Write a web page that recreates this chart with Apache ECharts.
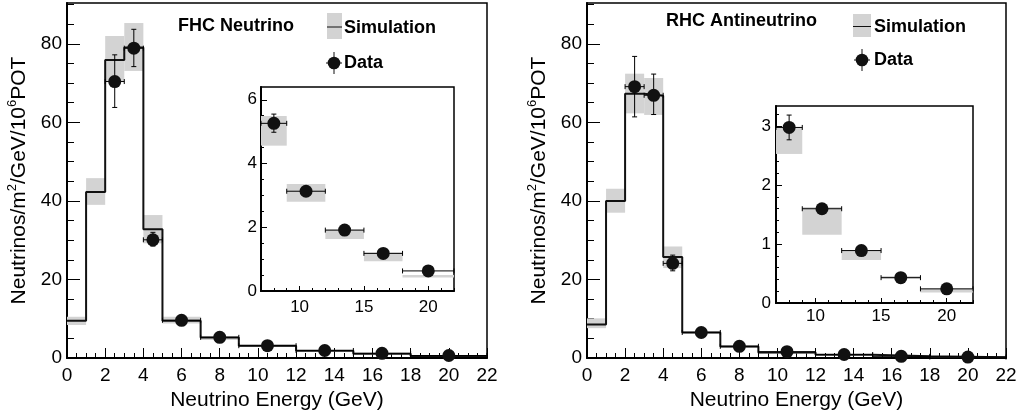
<!DOCTYPE html>
<html>
<head>
<meta charset="utf-8">
<script src="https://cdn.jsdelivr.net/npm/echarts@6/dist/echarts.min.js"></script>
<style>html,body{margin:0;padding:0;background:#fff}#c{width:1016px;height:417px}</style>
</head>
<body>
<div id="c"></div>
<script>
// ---------- data ----------
const binEdges = [0, 1, 2, 3, 4, 5, 7, 9, 12, 15, 18, 22];

const fhcSim     = [9.5, 42.3, 75.9, 79.1, 32.8, 9.5, 5.2, 3.1, 1.85, 1.1, 0.48];
const fhcSimLow  = [8.4, 39.0, 70.4, 73.1, 29.2, 8.8, 4.56, 2.8, 1.63, 0.93, 0.42];
const fhcSimHigh = [10.5, 45.8, 82.0, 85.3, 36.4, 10.5, 5.49, 3.36, 1.93, 1.21, 0.5];

const rhcSim     = [8.5, 40.0, 67.3, 66.8, 25.7, 6.5, 2.9, 1.4, 0.85, 0.44, 0.22];
const rhcSimLow  = [7.6, 37.0, 62.3, 61.9, 22.9, 6.2, 2.53, 1.16, 0.73, 0.41, 0.18];
const rhcSimHigh = [10.1, 43.1, 72.4, 71.3, 28.4, 6.9, 2.97, 1.63, 0.89, 0.46, 0.24];

// data points live in bins 2..10
const dataBinIndex = [2, 3, 4, 5, 6, 7, 8, 9, 10];
const dataEnergy   = [2.5, 3.5, 4.5, 6, 8, 10.5, 13.5, 16.5, 20];
const fhcData      = [70.4, 78.9, 30.1, 9.6, 5.26, 3.13, 1.91, 1.18, 0.63];
const fhcDataLow   = [63.8, 74.2, 28.5, 9.2, 4.98, 3.03, 1.85, 1.13, 0.60];
const fhcDataHigh  = [77.2, 83.7, 32.0, 10.0, 5.55, 3.23, 1.97, 1.23, 0.66];
const rhcData      = [69.1, 66.9, 24.1, 6.5, 2.98, 1.60, 0.89, 0.43, 0.24];
const rhcDataLow   = [61.4, 62.0, 22.2, 6.2, 2.77, 1.52, 0.85, 0.41, 0.22];
const rhcDataHigh  = [76.8, 72.3, 26.2, 6.8, 3.19, 1.68, 0.93, 0.45, 0.26];

// tick labels
const mainXTicks = [0, 2, 4, 6, 8, 10, 12, 14, 16, 18, 20, 22];
const mainYTicks = [0, 20, 40, 60, 80];
const insetXTicks = [10, 15, 20];
const fhcInsetYTicks = [0, 2, 4, 6];
const rhcInsetYTicks = [0, 1, 2, 3];

// ---------- helpers ----------
const FONT = 'Liberation Sans, Arial, Helvetica, sans-serif';
function steps(a, b, s) { const r = []; for (let v = a; v <= b + 1e-9; v += s) r.push(+v.toFixed(4)); return r; }

function axisPair(dim, gridIndex, min, max, majors, minors, majLen, minLen, labelSize, labelMargin, extra) {
  const pos = dim === 'x' ? 'bottom' : 'left';
  const major = Object.assign({
    type: 'value', gridIndex, min, max, position: pos,
    axisLine: { show: true, onZero: false, lineStyle: { color: '#000', width: 2 } },
    axisTick: { show: true, inside: true, length: majLen, customValues: majors, lineStyle: { color: '#000', width: 1 } },
    axisLabel: { show: true, customValues: majors, color: '#000', fontFamily: FONT, fontSize: labelSize, margin: labelMargin },
    splitLine: { show: false }
  }, extra || {});
  const minor = {
    type: 'value', gridIndex, min, max, position: pos,
    axisLine: { show: false, onZero: false },
    axisTick: { show: true, inside: true, length: minLen, customValues: minors, lineStyle: { color: '#000', width: 1 } },
    axisLabel: { show: false },
    splitLine: { show: false }
  };
  return [major, minor];
}

const yName = '{n|Neutrinos/m}{s|2}{n|/GeV/10}{s|6}{n|POT}';
const yNameStyle = {
  color: '#000', fontFamily: FONT, fontSize: 21,
  rich: {
    n: { fontFamily: FONT, fontSize: 21, color: '#000', lineHeight: 26 },
    s: { fontFamily: FONT, fontSize: 13, color: '#000', lineHeight: 13, verticalAlign: 'top' }
  }
};

const xName = 'Neutrino Energy (GeV)';
const xNameStyle = { color: '#000', fontFamily: FONT, fontSize: 21 };

const grids = [
  { left: 67, top: 3, width: 420, height: 355 },
  { left: 587, top: 3, width: 419, height: 355 },
  { left: 261, top: 87, width: 193, height: 204 },
  { left: 776, top: 106, width: 197, height: 197 }
].map(g => Object.assign({ show: true, borderColor: '#000', borderWidth: 1.5, backgroundColor: '#fff', outerBoundsMode: 'none', containLabel: false }, g));

const mainYMax = 90.4;
const xAxes = [].concat(
  axisPair('x', 0, 0, 22, mainXTicks, steps(0, 22, 0.5), 10, 5, 19, 8,
    { name: xName, nameLocation: 'middle', nameGap: 30, nameTextStyle: xNameStyle }),
  axisPair('x', 1, 0, 22, mainXTicks, steps(0, 22, 0.5), 10, 5, 19, 8,
    { name: xName, nameLocation: 'middle', nameGap: 30, nameTextStyle: xNameStyle }),
  axisPair('x', 2, 7, 22, insetXTicks, steps(7, 22, 1), 5, 3, 17, 8),
  axisPair('x', 3, 7, 22, insetXTicks, steps(7, 22, 1), 5, 3, 17, 5)
);
const yAxes = [].concat(
  axisPair('y', 0, 0, mainYMax, mainYTicks, steps(0, 90, 5), 13, 7, 19, 5,
    { name: yName, nameLocation: 'middle', nameGap: 35, nameRotate: 90, nameTextStyle: yNameStyle }),
  axisPair('y', 1, 0, mainYMax, mainYTicks, steps(0, 90, 5), 13, 7, 19, 5,
    { name: yName, nameLocation: 'middle', nameGap: 35, nameRotate: 90, nameTextStyle: yNameStyle }),
  axisPair('y', 2, 0, 6.4, fhcInsetYTicks, steps(0, 6, 0.5), 6, 3, 17, 4),
  axisPair('y', 3, 0, 3.344, rhcInsetYTicks, steps(0, 3.2, 0.2), 6, 3, 17, 5)
);

function boxData(low, high, fromBin) {
  const out = [];
  for (let i = fromBin; i < low.length; i++) out.push([binEdges[i], binEdges[i + 1], low[i], high[i]]);
  return out;
}
function histLine(vals) {
  const out = [];
  for (let i = 0; i < vals.length; i++) { out.push([binEdges[i], vals[i]]); out.push([binEdges[i + 1], vals[i]]); }
  return out;
}
function errData(vals, low, high, from) {
  const out = [];
  for (let k = from; k < vals.length; k++) {
    const b = dataBinIndex[k];
    out.push([dataEnergy[k], vals[k], binEdges[b], binEdges[b + 1], low[k], high[k]]);
  }
  return out;
}
function pointData(vals, from) {
  const out = [];
  for (let k = from; k < vals.length; k++) out.push([dataEnergy[k], vals[k]]);
  return out;
}

function renderBox(params, api) {
  const p1 = api.coord([api.value(0), api.value(3)]);
  const p2 = api.coord([api.value(1), api.value(2)]);
  return { type: 'rect', shape: { x: p1[0], y: p1[1], width: p2[0] - p1[0], height: p2[1] - p1[1] }, style: { fill: '#d3d3d3' } };
}
function renderErr(params, api) {
  const c = api.coord([api.value(0), api.value(1)]);
  const l = api.coord([api.value(2), api.value(1)]);
  const r = api.coord([api.value(3), api.value(1)]);
  const lo = api.coord([api.value(0), api.value(4)]);
  const hi = api.coord([api.value(0), api.value(5)]);
  const st = { stroke: '#000', lineWidth: 1 };
  const cap = 2.5;
  return { type: 'group', children: [
    { type: 'line', shape: { x1: l[0], y1: c[1], x2: r[0], y2: c[1] }, style: st },
    { type: 'line', shape: { x1: c[0], y1: lo[1], x2: c[0], y2: hi[1] }, style: st },
    { type: 'line', shape: { x1: l[0], y1: c[1] - cap, x2: l[0], y2: c[1] + cap }, style: st },
    { type: 'line', shape: { x1: r[0], y1: c[1] - cap, x2: r[0], y2: c[1] + cap }, style: st },
    { type: 'line', shape: { x1: c[0] - cap, y1: lo[1], x2: c[0] + cap, y2: lo[1] }, style: st },
    { type: 'line', shape: { x1: c[0] - cap, y1: hi[1], x2: c[0] + cap, y2: hi[1] }, style: st }
  ] };
}

function panelSeries(axisIdx, sim, simLow, simHigh, data, dLow, dHigh, inset) {
  const fromBin = inset ? 6 : 0;
  const fromPt = inset ? 4 : 0;
  const s = [];
  s.push({ type: 'custom', xAxisIndex: axisIdx, yAxisIndex: axisIdx, renderItem: renderBox, data: boxData(simLow, simHigh, fromBin), silent: true, z: 1 });
  if (!inset) s.push({ type: 'line', xAxisIndex: axisIdx, yAxisIndex: axisIdx, data: histLine(sim), showSymbol: false, symbol: 'none',
    lineStyle: { color: '#111', width: 2 }, silent: true, z: 2 });
  s.push({ type: 'custom', xAxisIndex: axisIdx, yAxisIndex: axisIdx, renderItem: renderErr, data: errData(data, dLow, dHigh, fromPt), silent: true, z: 3 });
  s.push({ type: 'scatter', xAxisIndex: axisIdx, yAxisIndex: axisIdx, data: pointData(data, fromPt), symbol: 'circle', symbolSize: 13,
    itemStyle: { color: '#111', opacity: 1 }, clip: false, silent: true, z: 4 });
  return s;
}

const series = [].concat(
  panelSeries(0, fhcSim, fhcSimLow, fhcSimHigh, fhcData, fhcDataLow, fhcDataHigh, false),
  panelSeries(2, rhcSim, rhcSimLow, rhcSimHigh, rhcData, rhcDataLow, rhcDataHigh, false),
  panelSeries(4, fhcSim, fhcSimLow, fhcSimHigh, fhcData, fhcDataLow, fhcDataHigh, true),
  panelSeries(6, rhcSim, rhcSimLow, rhcSimHigh, rhcData, rhcDataLow, rhcDataHigh, true)
);

function legendGraphics(titleText, tx, ty, bx, by, bw, bh, textX, simY, dataX, dataY) {
  const font = 'bold 18px ' + FONT;
  return [
    { type: 'text', x: tx, y: ty, style: { text: titleText, font, fill: '#000', verticalAlign: 'middle' }, z: 10 },
    { type: 'rect', shape: { x: bx, y: by, width: bw, height: bh }, style: { fill: '#d3d3d3' }, z: 10 },
    { type: 'line', shape: { x1: bx, y1: simY, x2: bx + bw, y2: simY }, style: { stroke: '#111', lineWidth: 1 }, z: 11 },
    { type: 'text', x: textX, y: simY + 1, style: { text: 'Simulation', font, fill: '#000', verticalAlign: 'middle' }, z: 10 },
    { type: 'line', shape: { x1: dataX, y1: dataY - 11, x2: dataX, y2: dataY + 11 }, style: { stroke: '#111', lineWidth: 1 }, z: 10 },
    { type: 'line', shape: { x1: dataX - 8, y1: dataY, x2: dataX + 8, y2: dataY }, style: { stroke: '#111', lineWidth: 1 }, z: 10 },
    { type: 'circle', shape: { cx: dataX, cy: dataY, r: 6.3 }, style: { fill: '#111' }, z: 11 },
    { type: 'text', x: textX, y: dataY, style: { text: 'Data', font, fill: '#000', verticalAlign: 'middle' }, z: 10 }
  ];
}

const option = {
  animation: false,
  backgroundColor: '#fff',
  grid: grids,
  xAxis: xAxes,
  yAxis: yAxes,
  series,
  graphic: [].concat(
    legendGraphics('FHC Neutrino', 178, 26, 327, 13, 15, 26, 344, 27, 334, 63),
    legendGraphics('RHC Antineutrino', 666, 21, 853, 14, 18, 23, 874, 26.5, 862, 60)
  )
};

const chart = echarts.init(document.getElementById('c'), null, { renderer: 'canvas' });
chart.setOption(option);
</script>
</body>
</html>
